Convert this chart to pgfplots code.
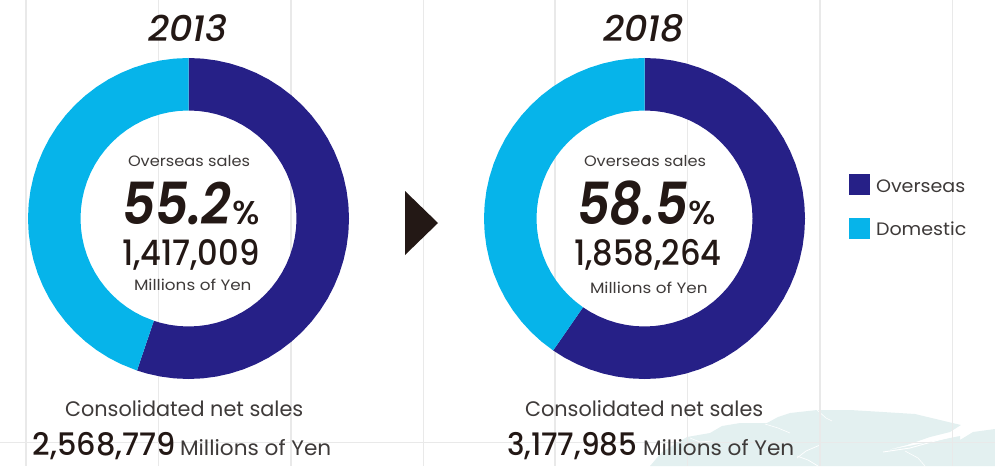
\documentclass[border=0pt]{standalone}
\usepackage{pgfplots}
\pgfplotsset{compat=1.18}
\usepackage{fontspec}
\setmainfont{Poppins}
\newfontfamily\pmed{Poppins Medium}
\newfontfamily\pmedit{Poppins Medium Italic}
\newfontfamily\psemi{Poppins SemiBold Italic}
\definecolor{navy}{HTML}{262087}
\definecolor{cyan1}{HTML}{06B4EA}
\definecolor{ink}{HTML}{231815}
\definecolor{txt}{HTML}{3E3A39}
\definecolor{gridc}{HTML}{E9E9E9}
\definecolor{mapc}{HTML}{E3F0F0}
\pgfplotsset{
 page axis/.style={at={(0,0)},anchor=south west,scale only axis,width=995pt,height=466pt,
  xmin=0,xmax=995,ymin=0,ymax=466,y dir=reverse,hide axis},
 ring axis/.style={anchor=center,scale only axis,width=321pt,height=321pt,
  xmin=-160.5,xmax=160.5,ymin=-160.5,ymax=160.5,hide axis,clip=false}
}
\newcommand{\tx}[6][txt]{\node[anchor=base west,inner sep=0pt,outer sep=0pt,text=#1] at (axis cs:#2,#3) {\scalebox{#5}[1]{\fontsize{#4}{#4}\selectfont #6}};}
\begin{document}
\begin{tikzpicture}[x=1pt,y=1pt]
\path[use as bounding box] (0,0) rectangle (995,466);
\begin{axis}[page axis]
\addplot[fill=mapc,draw=none] coordinates {(650,466)(662,452)(687,437)(710,433)(722,426)(740,423)(767,423)(778,417)(790,413)(817,410)(850,410)(883,412)(915,414)(940,420)(961,425)(950,432)(930,437)(907,445)(883,451)(960,436)(960,440)(973,432)(995,429)(995,466)} --cycle;
\addplot[white,line width=0.9pt] coordinates {(883,452)(910,448)(935,441)(962,434)};
\addplot[white,line width=0.7pt] coordinates {(797,458)(806,451)(820,445)};
\addplot[white,line width=0.7pt] coordinates {(797,456)(808,460)(818,466)};
\addplot[white,line width=0.6pt] coordinates {(817,410)(826,418)(832,421)};
\addplot[white,line width=0.6pt] coordinates {(765,424)(778,428)(790,433)};
\addplot[white,line width=0.6pt] coordinates {(905,451)(918,458)(925,466)};
\addplot[white,line width=0.6pt] coordinates {(690,438)(700,442)(712,441)};
\addplot[gridc,line width=1.4pt] coordinates {(26,0)(26,466)};
\addplot[gridc,line width=1.4pt] coordinates {(158.6,0)(158.6,466)};
\addplot[gridc,line width=1.4pt] coordinates {(290.8,0)(290.8,466)};
\addplot[gridc,line width=1.4pt] coordinates {(423.2,0)(423.2,466)};
\addplot[gridc,line width=1.4pt] coordinates {(555,0)(555,466)};
\addplot[gridc,line width=1.4pt] coordinates {(687.3,0)(687.3,466)};
\addplot[gridc,line width=1.4pt] coordinates {(820,0)(820,466)};
\addplot[gridc,line width=1.4pt] coordinates {(952.6,0)(952.6,466)};
\addplot[gridc,line width=1.4pt] coordinates {(0,442.7)(995,442.7)};
\end{axis}
% 2013 ring
\begin{axis}[ring axis,at={(188.5,247.5)}]
\addplot[data cs=polar,fill=navy,draw=none] coordinates {
(90,160.5)(85,160.5)(80,160.5)(75,160.5)(70,160.5)(65,160.5)(60,160.5)(55,160.5)(50,160.5)(45,160.5)(40,160.5)(35,160.5)(30,160.5)(25,160.5)(20,160.5)(15,160.5)(10,160.5)(5,160.5)(0,160.5)(-5,160.5)(-10,160.5)(-15,160.5)(-20,160.5)(-25,160.5)(-30,160.5)(-35,160.5)(-40,160.5)(-45,160.5)(-50,160.5)(-55,160.5)(-60,160.5)(-65,160.5)(-70,160.5)(-75,160.5)(-80,160.5)(-85,160.5)(-90,160.5)(-95,160.5)(-100,160.5)(-105,160.5)(-108.72,160.5)
(-108.72,108)(-105,108)(-100,108)(-95,108)(-90,108)(-85,108)(-80,108)(-75,108)(-70,108)(-65,108)(-60,108)(-55,108)(-50,108)(-45,108)(-40,108)(-35,108)(-30,108)(-25,108)(-20,108)(-15,108)(-10,108)(-5,108)(0,108)(5,108)(10,108)(15,108)(20,108)(25,108)(30,108)(35,108)(40,108)(45,108)(50,108)(55,108)(60,108)(65,108)(70,108)(75,108)(80,108)(85,108)(90,108)} --cycle;
\addplot[data cs=polar,fill=cyan1,draw=none] coordinates {
(-108.72,160.5)(-115,160.5)(-120,160.5)(-125,160.5)(-130,160.5)(-135,160.5)(-140,160.5)(-145,160.5)(-150,160.5)(-155,160.5)(-160,160.5)(-165,160.5)(-170,160.5)(-175,160.5)(-180,160.5)(-185,160.5)(-190,160.5)(-195,160.5)(-200,160.5)(-205,160.5)(-210,160.5)(-215,160.5)(-220,160.5)(-225,160.5)(-230,160.5)(-235,160.5)(-240,160.5)(-245,160.5)(-250,160.5)(-255,160.5)(-260,160.5)(-265,160.5)(-270,160.5)
(-270,108)(-265,108)(-260,108)(-255,108)(-250,108)(-245,108)(-240,108)(-235,108)(-230,108)(-225,108)(-220,108)(-215,108)(-210,108)(-205,108)(-200,108)(-195,108)(-190,108)(-185,108)(-180,108)(-175,108)(-170,108)(-165,108)(-160,108)(-155,108)(-150,108)(-145,108)(-140,108)(-135,108)(-130,108)(-125,108)(-120,108)(-115,108)(-108.72,108)} --cycle;
\end{axis}
% 2018 ring
\begin{axis}[ring axis,at={(644.5,247.5)}]
\addplot[data cs=polar,fill=navy,draw=none] coordinates {
(90,160.5)(85,160.5)(80,160.5)(75,160.5)(70,160.5)(65,160.5)(60,160.5)(55,160.5)(50,160.5)(45,160.5)(40,160.5)(35,160.5)(30,160.5)(25,160.5)(20,160.5)(15,160.5)(10,160.5)(5,160.5)(0,160.5)(-5,160.5)(-10,160.5)(-15,160.5)(-20,160.5)(-25,160.5)(-30,160.5)(-35,160.5)(-40,160.5)(-45,160.5)(-50,160.5)(-55,160.5)(-60,160.5)(-65,160.5)(-70,160.5)(-75,160.5)(-80,160.5)(-85,160.5)(-90,160.5)(-95,160.5)(-100,160.5)(-105,160.5)(-110,160.5)(-115,160.5)(-120,160.5)(-124.7,160.5)
(-124.7,108)(-120,108)(-115,108)(-110,108)(-105,108)(-100,108)(-95,108)(-90,108)(-85,108)(-80,108)(-75,108)(-70,108)(-65,108)(-60,108)(-55,108)(-50,108)(-45,108)(-40,108)(-35,108)(-30,108)(-25,108)(-20,108)(-15,108)(-10,108)(-5,108)(0,108)(5,108)(10,108)(15,108)(20,108)(25,108)(30,108)(35,108)(40,108)(45,108)(50,108)(55,108)(60,108)(65,108)(70,108)(75,108)(80,108)(85,108)(90,108)} --cycle;
\addplot[data cs=polar,fill=cyan1,draw=none] coordinates {
(-124.7,160.5)(-130,160.5)(-135,160.5)(-140,160.5)(-145,160.5)(-150,160.5)(-155,160.5)(-160,160.5)(-165,160.5)(-170,160.5)(-175,160.5)(-180,160.5)(-185,160.5)(-190,160.5)(-195,160.5)(-200,160.5)(-205,160.5)(-210,160.5)(-215,160.5)(-220,160.5)(-225,160.5)(-230,160.5)(-235,160.5)(-240,160.5)(-245,160.5)(-250,160.5)(-255,160.5)(-260,160.5)(-265,160.5)(-270,160.5)
(-270,108)(-265,108)(-260,108)(-255,108)(-250,108)(-245,108)(-240,108)(-235,108)(-230,108)(-225,108)(-220,108)(-215,108)(-210,108)(-205,108)(-200,108)(-195,108)(-190,108)(-185,108)(-180,108)(-175,108)(-170,108)(-165,108)(-160,108)(-155,108)(-150,108)(-145,108)(-140,108)(-135,108)(-130,108)(-124.7,108)} --cycle;
\end{axis}
% overlay
\begin{axis}[page axis]
\addplot[fill=ink,draw=none] coordinates {(405,191)(438,223)(405,255)} --cycle;
\addplot[fill=navy,draw=none] coordinates {(849,174)(870,174)(870,195)(849,195)} --cycle;
\addplot[fill=cyan1,draw=none] coordinates {(849,218)(870,218)(870,239)(849,239)} --cycle;
\tx[ink]{148}{41}{36}{1.02}{\pmedit 2013}
\tx[ink]{603}{41}{36}{1.02}{\pmedit 2018}
\tx{128}{166}{15}{1.08}{Overseas sales}
\tx{584}{166}{15}{1.08}{Overseas sales}
\tx[ink]{122}{224}{58}{0.89}{\psemi 55.2}
\tx[ink]{232}{224}{33}{1.05}{\pmed \%}
\tx[ink]{577}{224}{58}{0.88}{\psemi 58.5}
\tx[ink]{688}{224}{33}{1.05}{\pmed \%}
\tx[ink]{122}{265}{35}{0.92}{\pmed 1,417,009}
\tx[ink]{574}{265}{35}{0.92}{\pmed 1,858,264}
\tx{134}{290}{15}{1.12}{Millions of Yen}
\tx{590}{293}{15}{1.12}{Millions of Yen}
\tx{65}{416}{21}{0.99}{Consolidated net sales}
\tx{525}{416}{21}{0.99}{Consolidated net sales}
\tx[ink]{33}{455}{31}{0.98}{\pmed 2,568,779}
\tx{180}{455}{21}{1.03}{Millions of Yen}
\tx[ink]{507}{455}{31}{0.95}{\pmed 3,177,985}
\tx{643}{455}{21}{1.03}{Millions of Yen}
\tx{876}{192}{18}{1.06}{Overseas}
\tx{876}{235}{18}{1.06}{Domestic}
\end{axis}
\end{tikzpicture}
\end{document}
